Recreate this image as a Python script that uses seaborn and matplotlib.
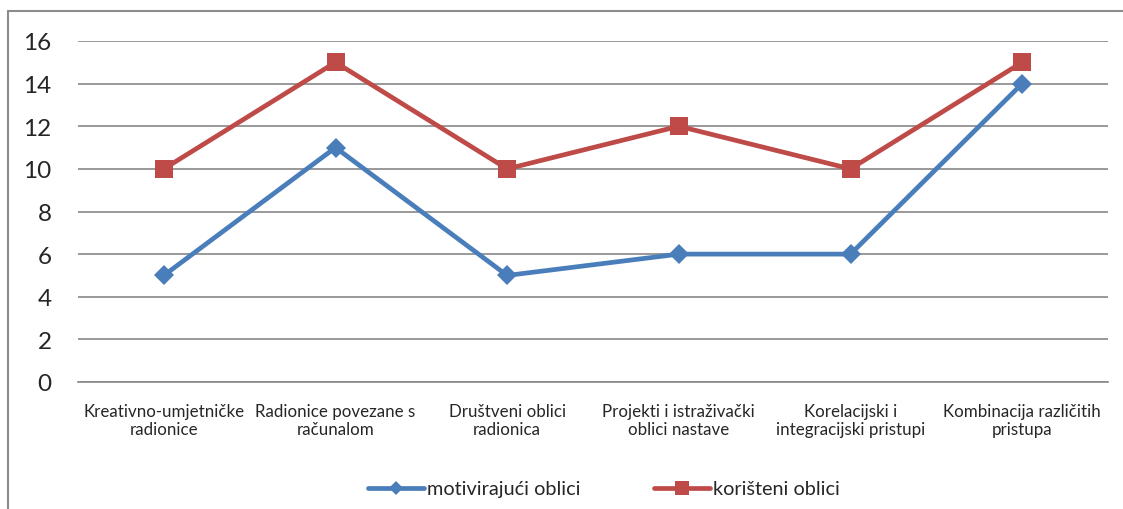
import matplotlib.pyplot as plt
import seaborn as sns
import pandas as pd
from matplotlib.lines import Line2D

sns.set_theme(style="white")
plt.rcParams["font.family"] = ["Lato", "DejaVu Sans"]

categories = [
    "Kreativno-umjetničke\nradionice",
    "Radionice povezane s\nračunalom",
    "Društveni oblici\nradionica",
    "Projekti i istraživački\noblici nastave",
    "Korelacijski i\nintegracijski pristupi",
    "Kombinacija različitih\npristupa",
]
motivirajuci = [5, 11, 5, 6, 6, 14]
koristeni = [10, 15, 10, 12, 10, 15]
series_names = ["motivirajući oblici", "korišteni oblici"]
yticks = [0, 2, 4, 6, 8, 10, 12, 14, 16]

df = pd.DataFrame({
    "kategorija": categories * 2,
    "broj": motivirajuci + koristeni,
    "serija": [series_names[0]] * 6 + [series_names[1]] * 6,
})

colors = {series_names[0]: "#4A7EBB", series_names[1]: "#BE4B48"}
markers = {series_names[0]: "D", series_names[1]: "s"}
msizes = {series_names[0]: 10.5, series_names[1]: 13.5}

fig = plt.figure(figsize=(11.23, 5.10), dpi=100)
ax = fig.add_axes([78 / 1123, 1 - 383 / 510, 1030 / 1123, 341 / 510])

for name in series_names:
    sub = df[df["serija"] == name]
    sns.lineplot(data=sub, x="kategorija", y="broj", ax=ax, color=colors[name],
                 marker=markers[name], markersize=msizes[name], linewidth=3.4,
                 markeredgewidth=0, sort=False, zorder=3)

ax.set_xlim(-0.5, len(categories) - 0.5)
ax.set_ylim(0, 16)
ax.set_yticks(yticks)
ax.set_yticklabels([str(v) for v in yticks], fontsize=17.5)
ax.set_xlabel("")
ax.set_ylabel("")
ax.tick_params(axis="x", labelsize=12.2, length=0, pad=15)
ax.tick_params(axis="y", length=0, pad=19)
for lab in ax.get_xticklabels():
    lab.set_linespacing(1.15)
ax.grid(axis="y", color="#878787", linewidth=1.2)
for side in ["top", "right", "left"]:
    ax.spines[side].set_visible(False)
ax.spines["bottom"].set_color("#878787")
ax.spines["bottom"].set_linewidth(1.2)
ax.set_facecolor("none")

handles = [Line2D([], [], color=colors[n], marker=markers[n], markersize=msizes[n] - 3,
                  linewidth=3.4, markeredgewidth=0) for n in series_names]
fig.legend(handles, series_names, loc="center", bbox_to_anchor=(604 / 1123, 1 - 490 / 510),
           ncol=2, frameon=False, fontsize=14.3, handlelength=2.8, handletextpad=0.15,
           columnspacing=3.7)

# chart area border (Excel style)
fig.add_artist(Line2D([8 / 1123, 1.0], [1 - 12 / 510] * 2, color="#8c8c8c", linewidth=1.5))
fig.add_artist(Line2D([8 / 1123] * 2, [0.0, 1 - 12 / 510], color="#8c8c8c", linewidth=1.5))

fig.savefig("out.png", dpi=100)
